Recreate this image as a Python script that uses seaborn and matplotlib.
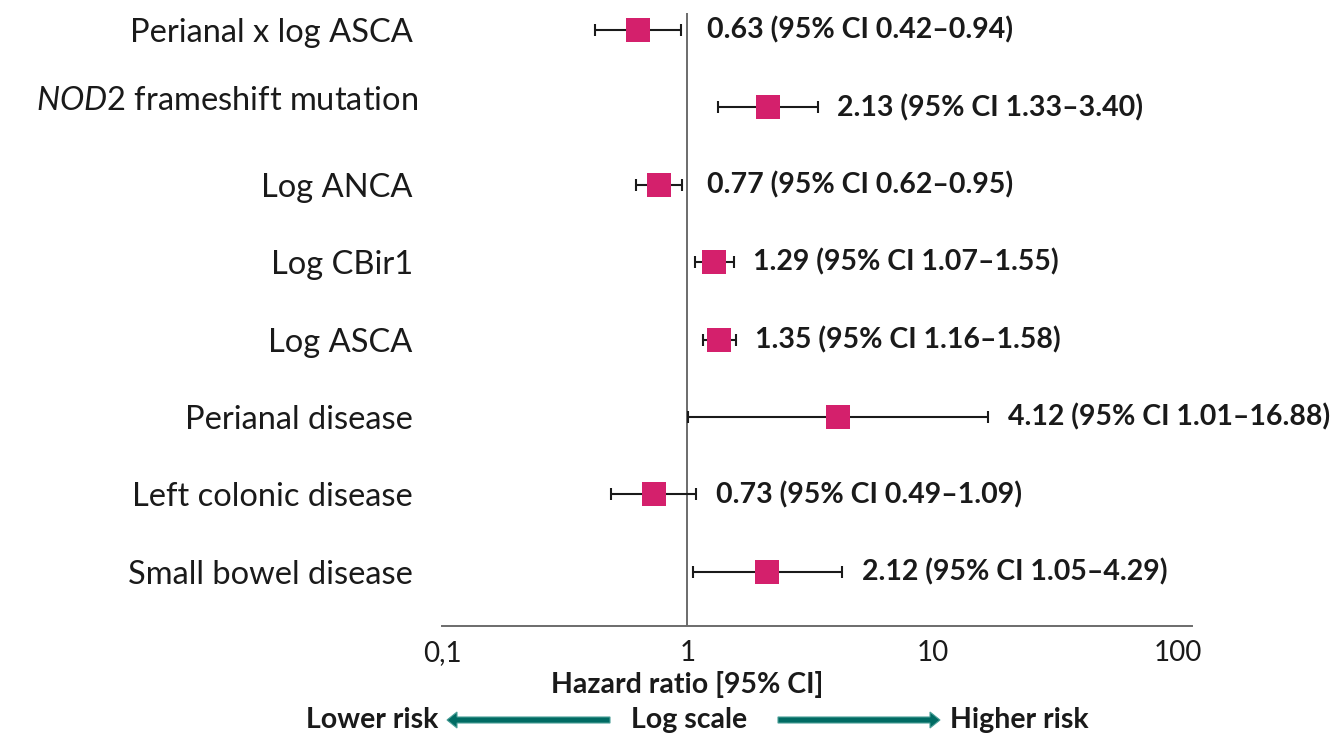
import matplotlib.pyplot as plt
import matplotlib as mpl
import matplotlib.transforms as mtransforms
import seaborn as sns
import pandas as pd
from matplotlib.patches import FancyArrow

# values
labels = ["Perianal x log ASCA", "$\\it{NOD2}$ frameshift mutation", "Log ANCA",
          "Log CBir1", "Log ASCA", "Perianal disease", "Left colonic disease",
          "Small bowel disease"]
hr = [0.63, 2.13, 0.77, 1.29, 1.35, 4.12, 0.73, 2.12]
ci_low = [0.42, 1.33, 0.62, 1.07, 1.16, 1.01, 0.49, 1.05]
ci_high = [0.94, 3.40, 0.95, 1.55, 1.58, 16.88, 1.09, 4.29]
row_pos = [0, 1, 2, 3, 4, 5, 6, 7]
tick_vals = [0.1, 1, 10, 100]
tick_text = ["0,1", "1", "10", "100"]

sns.set_style("white")
plt.rcParams['font.family'] = ['Lato', 'DejaVu Sans']
plt.rcParams['mathtext.fontset'] = 'custom'
plt.rcParams['mathtext.it'] = 'Lato:italic'
plt.rcParams['mathtext.rm'] = 'Lato'

df = pd.DataFrame({"label": labels, "hr": hr, "lo": ci_low, "hi": ci_high, "y": row_pos})

fig = plt.figure(figsize=(13.43, 7.36), dpi=100)
ax = fig.add_axes([442 / 1343, 1 - 626 / 736, 750 / 1343, 613 / 736])

ax.set_xscale("log")
ax.set_xlim(0.1, 100 * 10 ** (14 / 244))
ax.set_ylim(7.7, -0.22)

# reference line at HR = 1
ax.axvline(1, color="#6b6b6b", lw=1.4, zorder=1)

ax.errorbar(df["hr"], df["y"],
            xerr=[df["hr"] - df["lo"], df["hi"] - df["hr"]],
            fmt="none", ecolor="#1a1a1a", elinewidth=1.5, capsize=4.5,
            capthick=1.5, zorder=2)
sns.scatterplot(data=df, x="hr", y="y", marker="s", s=300, color="#d4206c",
                linewidth=0, zorder=3, ax=ax, legend=False)

for _, r in df.iterrows():
    ax.annotate(f"{r.hr:.2f} (95% CI {r.lo:.2f}\u2013{r.hi:.2f})",
                xy=(max(r.hi, 1.0), r.y), xytext=(14, 0), textcoords="offset points",
                ha="left", va="center", fontsize=20.5, fontweight="bold",
                color="#1a1a1a", clip_on=False)

ax.set_yticks(row_pos)
ax.set_yticklabels(labels, fontsize=23.5, color="#1a1a1a")
ax.tick_params(axis="y", length=0, pad=21)
# the NOD2 label sits a little above its row in the original
lab = ax.get_yticklabels()[1]
lab.set_transform(lab.get_transform() +
                  mtransforms.ScaledTranslation(0.05, 0.09, fig.dpi_scale_trans))

ax.set_xticks(tick_vals)
ax.set_xticklabels(tick_text, fontsize=20, color="#1a1a1a")
ax.xaxis.set_minor_locator(mpl.ticker.NullLocator())
ax.tick_params(axis="x", length=0, pad=10)
ax.set_xlabel("")
ax.set_ylabel("")

for side in ["top", "right", "left"]:
    ax.spines[side].set_visible(False)
ax.spines["bottom"].set_color("#6b6b6b")
ax.spines["bottom"].set_linewidth(1.4)

# axis title centred on HR = 1
ax.text(1, -0.095, "Hazard ratio [95% CI]", transform=ax.get_xaxis_transform(),
        ha="center", va="center", fontsize=20.5, fontweight="bold", color="#1a1a1a")

# risk direction row
fy = 1 - 720 / 736
fig.text(438 / 1343, fy, "Lower risk", ha="right", va="center", fontsize=20.5,
         fontweight="bold", color="#1a1a1a")
fig.text(689 / 1343, fy, "Log scale", ha="center", va="center", fontsize=20.5,
         fontweight="bold", color="#1a1a1a")
fig.text(950 / 1343, fy, "Higher risk", ha="left", va="center", fontsize=20.5,
         fontweight="bold", color="#1a1a1a")
for x0, dx in [(610, -163), (778, 162)]:
    arr = FancyArrow(x0 / 1343, fy, dx / 1343, 0, width=6 / 736, head_width=16 / 736,
                     head_length=10 / 1343, length_includes_head=True,
                     transform=fig.transFigure, facecolor="#006b63",
                     edgecolor="#4a9e97", linewidth=0.8)
    fig.patches.append(arr)

fig.savefig("out.png", dpi=100)
